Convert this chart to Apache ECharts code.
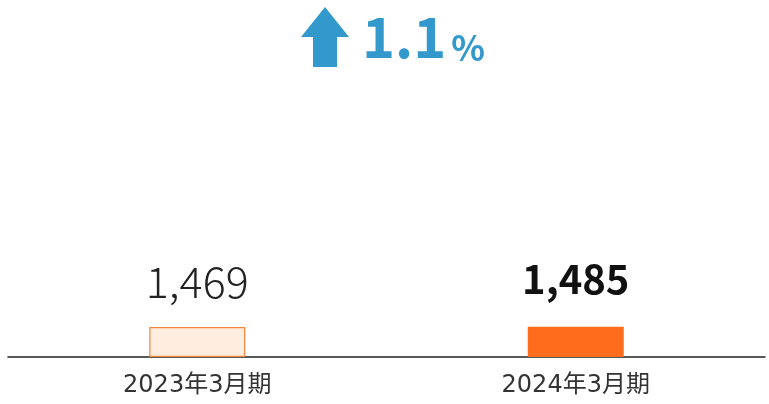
<!DOCTYPE html>
<html>
<head>
<meta charset="utf-8">
<script src="https://cdn.jsdelivr.net/npm/echarts@6/dist/echarts.min.js"></script>
<style>
  html, body { margin: 0; padding: 0; background: #fff; }
  #chart { width: 769px; height: 404px; }
</style>
</head>
<body>
<div id="chart"></div>
<script>
const categories = ['2023年3月期', '2024年3月期'];
const values = [1469, 1485];
const changeText = '1.1';

const blue = '#3399CC';
const font = '"Noto Sans CJK JP", "Noto Sans", sans-serif';
const catFont = '"DejaVu Sans", "Noto Sans CJK JP", sans-serif';

const chart = echarts.init(document.getElementById('chart'));

const option = {
  animation: false,
  grid: { left: 8, right: 4, top: 51, bottom: 47 },
  xAxis: {
    type: 'category',
    data: categories,
    axisTick: { show: false },
    axisLine: { lineStyle: { color: '#222', width: 1.5 } },
    axisLabel: { color: '#333', fontSize: 24, fontFamily: catFont, margin: 17 }
  },
  yAxis: {
    type: 'value',
    min: 0,
    max: 15000,
    show: false
  },
  series: [{
    type: 'bar',
    barWidth: 96,
    data: values.map((v, i) => ({
      value: v,
      itemStyle: i === 0
        ? { color: '#FFEEDF', borderColor: '#F4853E', borderWidth: 1.2 }
        : { color: '#FF6C1C' },
      label: i === 0
        ? { fontWeight: 300, color: '#222', fontSize: 43, distance: 24 }
        : { fontWeight: 'bold', color: '#111', fontSize: 40, distance: 28 }
    })),
    label: {
      show: true,
      position: 'top',
      fontFamily: font,
      formatter: p => p.value.toLocaleString('en-US')
    }
  }],
  graphic: [
    {
      type: 'polygon',
      shape: { points: [[325, 7], [349, 37], [337, 37], [337, 67], [313, 67], [313, 37], [301, 37]] },
      style: { fill: blue }
    },
    {
      type: 'text',
      left: 362,
      top: 9,
      style: {
        text: '{n|' + changeText + '}{p|%}',
        rich: {
          n: { fontSize: 56, lineHeight: 62, fontWeight: 'bold', fill: blue, fontFamily: font, verticalAlign: 'bottom' },
          p: { fontSize: 35, lineHeight: 40, fontWeight: 'bold', fill: blue, fontFamily: font, verticalAlign: 'bottom', padding: [0, 0, 0, 5] }
        }
      }
    }
  ]
};

chart.setOption(option);
</script>
</body>
</html>
